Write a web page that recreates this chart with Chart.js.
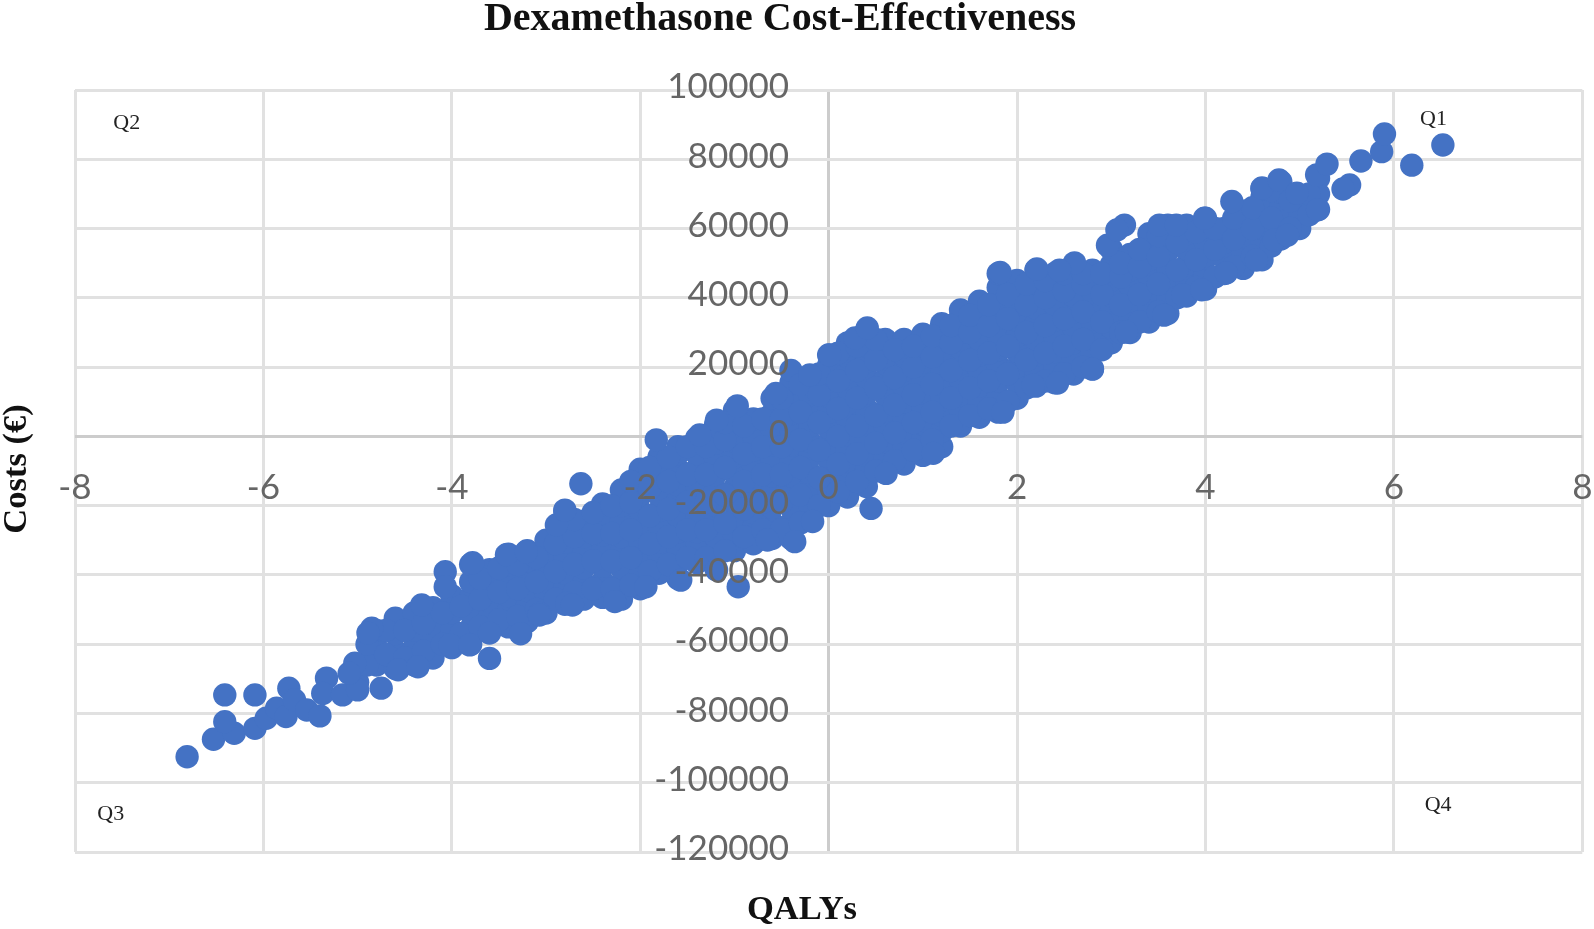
<!DOCTYPE html>
<html>
<head>
<meta charset="utf-8">
<title>Dexamethasone Cost-Effectiveness</title>
<script src="https://cdn.jsdelivr.net/npm/chart.js@4/dist/chart.umd.min.js"></script>
<style>
  html, body { margin: 0; padding: 0; background: #fff; }
  #wrap { width: 1594px; height: 929px; }
  canvas { filter: blur(0.5px); }
</style>
</head>
<body>
<div id="wrap"><canvas id="ceChart"></canvas></div>
<script>
// Values: the dense band, column by column
const bandQalys = [
  -5.0, -4.8, -4.6, -4.4, -4.2, -4.0, -3.8, -3.6, -3.4, -3.2, -3.0, -2.8, -2.6,
  -2.4, -2.2, -2.0, -1.8, -1.6, -1.4, -1.2, -1.0, -0.8, -0.6, -0.4, -0.2, 0.0,
  0.2, 0.4, 0.6, 0.8, 1.0, 1.2, 1.4, 1.6, 1.8, 2.0, 2.2, 2.4, 2.6, 2.8, 3.0,
  3.2, 3.4, 3.6, 3.8, 4.0, 4.2, 4.4, 4.6, 4.8, 5.0, 5.2,
];
const bandCosts = [
  [-71000, -66000],
  [-66000, -61000, -56000],
  [-67000, -62000, -57000, -52500],
  [-66000, -61000, -56000, -51000],
  [-64000, -59000, -54000, -49500],
  [-61000, -56000, -51000, -46000],
  [-60000, -55500, -51000, -46500, -42000, -37000],
  [-56500, -52000, -47500, -43000, -38500],
  [-55000, -50500, -46000, -41500, -37000, -34000],
  [-53500, -49000, -44500, -40000, -36000, -33000],
  [-51000, -46500, -42000, -37500, -33000, -30000],
  [-48500, -44000, -39500, -35000, -30500, -26000, -21700],
  [-47000, -42500, -38000, -33500, -29000, -24500],
  [-46500, -42000, -37500, -33000, -28500, -24000, -19500],
  [-47000, -42500, -38000, -33500, -29000, -24500, -20000, -15500],
  [-44000, -39500, -35000, -30500, -26000, -21500, -17000, -12500, -9500],
  [-39500, -35000, -30500, -26000, -21500, -17000, -12500, -8000, -6000],
  [-41000, -36500, -32000, -27500, -23000, -18500, -14000, -9500, -5000, -3000],
  [-36500, -32000, -27500, -23000, -18500, -14000, -9500, -5000, -500],
  [-38000, -33500, -29000, -24500, -20000, -15500, -11000, -6500, -2000, 3500],
  [-33000, -28500, -24000, -19500, -15000, -10500, -6000, -1500, 3000, 7500],
  [-31000, -26500, -22000, -17500, -13000, -8500, -4000, 500, 5000],
  [-29500, -25000, -20500, -16000, -11500, -7000, -2500, 2000, 6500, 11000],
  [-29500, -25000, -20500, -16000, -11500, -7000, -2500, 2000, 6500, 11000, 15500, 19000],
  [-24000, -19500, -15000, -10500, -6000, -1500, 3000, 7500, 12000, 16500],
  [-20000, -15500, -11000, -6500, -2000, 2500, 7000, 11500, 16000, 20500, 23500],
  [-17500, -13000, -8500, -4000, 500, 5000, 9500, 14000, 18500, 23000, 27000],
  [-14500, -10000, -5500, -1000, 3500, 8000, 12500, 17000, 21500, 26000, 30500],
  [-10500, -6000, -1500, 3000, 7500, 12000, 16500, 21000, 25500, 28000],
  [-8000, -3500, 1000, 5500, 10000, 14500, 19000, 23500, 28000],
  [-5500, -1000, 3500, 8000, 12500, 17000, 21500, 26000, 29500],
  [-3000, 1500, 6000, 10500, 15000, 19500, 24000, 28500, 32500],
  [3000, 7500, 12000, 16500, 21000, 25500, 30000, 34500, 36500],
  [5500, 10000, 14500, 19000, 23500, 28000, 32500, 37000, 39000],
  [7000, 11500, 16000, 20500, 25000, 29500, 34000, 38500, 43000, 47000],
  [11000, 15500, 20000, 24500, 29000, 33500, 38000, 42500, 45000],
  [14500, 19000, 23500, 28000, 32500, 37000, 41500, 46000, 48000],
  [15500, 20000, 24500, 29000, 33500, 38000, 42500, 47000],
  [18000, 22500, 27000, 31500, 36000, 40500, 45000, 49500],
  [19500, 24000, 28500, 33000, 37500, 42000, 46500, 48000],
  [27000, 31500, 36000, 40500, 45000, 49500, 54000],
  [30000, 34500, 39000, 43500, 48000, 52500],
  [33000, 37500, 42000, 46500, 51000, 55500, 58500],
  [35500, 40000, 44500, 49000, 53500, 58000, 61000],
  [40500, 45000, 49500, 54000, 58500, 61000],
  [42500, 47000, 51500, 56000, 60500, 63000],
  [47000, 51500, 56000, 60000],
  [48500, 53000, 57500, 62000, 65000],
  [51000, 55500, 60000, 64500, 69000, 71500],
  [57000, 61500, 66000, 70500, 73500],
  [60000, 64500, 69500],
  [65500, 70000, 74500],
];

// Points between those columns, the band is solid in the picture
const midQalys = [
  -4.9, -4.7, -4.5, -4.3, -4.1, -3.9, -3.7, -3.5, -3.3, -3.1, -2.9, -2.7, -2.5,
  -2.3, -2.1, -1.9, -1.7, -1.5, -1.3, -1.1, -0.9, -0.7, -0.5, -0.3, -0.1, 0.1,
  0.3, 0.5, 0.7, 0.9, 1.1, 1.3, 1.5, 1.7, 1.9, 2.1, 2.3, 2.5, 2.7, 2.9, 3.1,
  3.3, 3.5, 3.7, 3.9, 4.1, 4.3, 4.5, 4.7, 4.9, 5.1,
];
const midCosts = [
  [-66000, -60000],
  [-63000, -56000],
  [-64000, -56000],
  [-62000, -54000],
  [-60000, -51000],
  [-57000, -49000],
  [-55000, -47000, -41000],
  [-53000, -45000, -38000],
  [-52000, -44000, -37000],
  [-50000, -42000, -35000],
  [-47000, -39000, -31000],
  [-45000, -37000, -29000, -24000],
  [-44000, -36000, -28000, -22000],
  [-44000, -36000, -28000, -20000],
  [-43000, -35000, -27000, -19000, -13000],
  [-39000, -31000, -23000, -15000, -9000],
  [-37000, -29000, -21000, -13000, -6000],
  [-35000, -27000, -19000, -11000, -3000],
  [-35000, -27000, -19000, -11000, -3000],
  [-33000, -25000, -17000, -9000, -1000, 4000],
  [-29000, -21000, -13000, -5000, 3000],
  [-27000, -19000, -11000, -3000, 5000],
  [-27000, -19000, -11000, -3000, 5000, 11000],
  [-25000, -17000, -9000, -1000, 7000, 15000],
  [-20000, -12000, -4000, 4000, 12000, 18000],
  [-16000, -8000, 0, 8000, 16000, 24000],
  [-13000, -5000, 3000, 11000, 19000, 26000],
  [-10000, -2000, 6000, 14000, 22000, 28000],
  [-7000, 1000, 9000, 17000, 25000],
  [-4000, 4000, 12000, 20000, 26000],
  [-1000, 7000, 15000, 23000, 29000],
  [3000, 11000, 19000, 27000, 32000],
  [6000, 14000, 22000, 30000, 35000],
  [8000, 16000, 24000, 32000, 38000],
  [10000, 18000, 26000, 34000, 41000],
  [14000, 22000, 30000, 38000, 44000],
  [16000, 24000, 32000, 40000, 45000],
  [18000, 26000, 34000, 42000, 47000],
  [20000, 28000, 36000, 44000, 47000],
  [25000, 33000, 41000, 47000],
  [30000, 38000, 46000, 50000],
  [33000, 41000, 49000, 54000],
  [36000, 44000, 52000, 58000],
  [40000, 48000, 56000],
  [43000, 51000, 59000],
  [46000, 54000, 60000],
  [49000, 57000, 63000],
  [52000, 60000, 66000],
  [55000, 63000, 71000],
  [60000, 68000],
  [64000, 70000],
];

// Single points that stand out from the band
const singleQalys = [
  -6.81, -6.53, -6.31, -6.41, -6.41, -6.09, -6.09, -5.97, -5.86, -5.76, -5.73,
  -5.67, -5.54, -5.40, -5.33, -5.37, -5.16, -5.00, -4.75, -5.03, -5.09, -4.85,
  -4.89, -4.57, -4.36, -4.32, -4.07, -4.07, -3.78, -3.42, -3.21, -2.89, -3.60,
  -3.27, -4.02, -3.81, -3.60, -3.07, -2.78, -1.83, -2.63, -2.80, -0.97, -1.19,
  -1.37, -0.56, -0.20, 0.01, 0.28, 0.41, 0.45, -0.17, -0.36, -0.65, -0.96,
  -1.19, -1.57, -1.94, -2.27, -2.72, -3.07, 1.11, 0.61, 1.85, 1.82, 2.21, 2.61,
  2.45, 2.96, 3.14, 3.06, 3.51, 3.69, 3.99, 4.28, 4.60, 4.78, 4.97, 5.18, 5.29,
  5.53, 5.46, 5.65, 5.87, 5.90, 6.19, 6.52, 2.80, 2.43, 2.17, 3.16, 3.56, 3.76,
  3.96, 4.22, 4.54, 4.73, 4.87, 5.19,
];
const singleCosts = [
  -92500, -87450, -85700, -82400, -74650, -74650, -84300, -81400, -78500, -80900, -72700,
  -76100, -79000, -80700, -69800, -74200, -74650, -73200, -72700, -65500, -68400, -55400,
  -56800, -67400, -66500, -48700, -39100, -43400, -36500, -34200, -33300, -25600, -64100,
  -57000, -60200, -60200, -56800, -51100, -48200, -1000, -13700, -21300, 8800, 4700,
  400, 12400, 17700, 23500, 28400, 31300, -20800, -24600, -30400, -29900, -43400,
  -38600, -41500, -43400, -47700, -48700, -51600, -4900, -10700, 7000, 47300, 48300, 50100,
  48000, 55200, 61000, 59600, 61000, 61000, 63000, 67800, 71700, 74000, 70200, 75500, 78600,
  72600, 71400, 79500, 82200, 87300, 78300, 84100, 19400, 15400, 14800, 30100, 35000, 40800,
  42300, 47200, 50900, 56700, 58100, 65400,
];

const xTicks = [-8, -6, -4, -2, 0, 2, 4, 6, 8];
const yTicks = [100000, 80000, 60000, 40000, 20000, 0, -20000, -40000, -60000, -80000, -100000, -120000];

const chartTitle = "Dexamethasone Cost-Effectiveness";
const xTitle = "QALYs";
const yTitle = "Costs (€)";
const quadrantNames = ["Q1", "Q2", "Q3", "Q4"];
const quadrantQalys = [6.42, -7.45, -7.62, 6.47];
const quadrantCosts = [91500, 90500, -109000, -106500];

// Build the x/y points for the scatter from the lists above
const points = [];
bandQalys.forEach((q, i) => {
  bandCosts[i].forEach((c) => points.push({ x: q, y: c }));
});
midQalys.forEach((q, i) => {
  midCosts[i].forEach((c) => points.push({ x: q, y: c }));
});
singleQalys.forEach((q, i) => points.push({ x: q, y: singleCosts[i] }));

// Chart title, axis titles and Q1-Q4 sit at fixed spots, so draw them here
const textPlugin = {
  id: "textPlugin",
  afterDraw(chart) {
    const ctx = chart.ctx;
    const { x, y } = chart.scales;
    ctx.save();
    ctx.textAlign = "center";
    ctx.textBaseline = "middle";
    ctx.fillStyle = "#111";

    ctx.font = 'bold 40px "Liberation Serif"';
    ctx.fillText(chartTitle, 780, 20);

    ctx.font = 'bold 34.5px "Liberation Serif"';
    ctx.fillText(xTitle, 802, 910);

    ctx.save();
    ctx.translate(17, 469);
    ctx.rotate(-Math.PI / 2);
    ctx.fillText(yTitle, 0, 0);
    ctx.restore();

    ctx.font = '22px "Liberation Serif"';
    ctx.fillStyle = "#222";
    quadrantNames.forEach((name, i) => {
      ctx.fillText(name, x.getPixelForValue(quadrantQalys[i]), y.getPixelForValue(quadrantCosts[i]));
    });
    ctx.restore();
  },
};

// The zero lines are darker than the other grid lines
const gridColor = (ctx) => (ctx.tick && ctx.tick.value === 0 ? "#cccccc" : "#e1e1e1");

new Chart(document.getElementById("ceChart"), {
  type: "scatter",
  data: {
    datasets: [
      {
        label: "Dexamethasone",
        data: points,
        backgroundColor: "#4472c4",
        borderWidth: 0,
        pointRadius: 11.7,
      },
    ],
  },
  options: {
    responsive: true,
    maintainAspectRatio: false,
    animation: false,
    layout: { padding: { left: 75, right: 11, top: 90, bottom: 77 } },
    plugins: {
      legend: { display: false },
      tooltip: { enabled: false },
    },
    scales: {
      x: {
        type: "linear",
        position: { y: 0 },
        min: -8,
        max: 8,
        // tick padding would otherwise push the plot in from the right
        afterFit: (scale) => {
          scale.height = 0;
          scale.paddingLeft = 0;
          scale.paddingRight = 0;
        },
        afterBuildTicks: (scale) => {
          scale.ticks = xTicks.map((v) => ({ value: v }));
        },
        grid: { color: gridColor, lineWidth: 3, drawTicks: false },
        border: { display: false },
        ticks: {
          z: 1,
          color: "#666",
          font: { family: "Lato", size: 35 },
          padding: 30,
          maxRotation: 0,
          autoSkip: false,
          callback: (v) => String(v),
        },
      },
      y: {
        type: "linear",
        // sits left of x=0 so the labels stand off the zero line as in the picture
        position: { x: -0.42 },
        min: -120000,
        max: 100000,
        afterFit: (scale) => {
          scale.width = 0;
        },
        afterBuildTicks: (scale) => {
          scale.ticks = yTicks.map((v) => ({ value: v }));
        },
        grid: { color: gridColor, lineWidth: 3, drawTicks: false },
        border: { display: false },
        ticks: {
          z: 1,
          color: "#666",
          font: { family: "Lato", size: 35, lineHeight: "6px" },
          autoSkip: false,
          // the empty second line lifts the label a little above its grid line
          callback: (v) => [String(v), ""],
        },
      },
    },
  },
  plugins: [textPlugin],
});
</script>
</body>
</html>
